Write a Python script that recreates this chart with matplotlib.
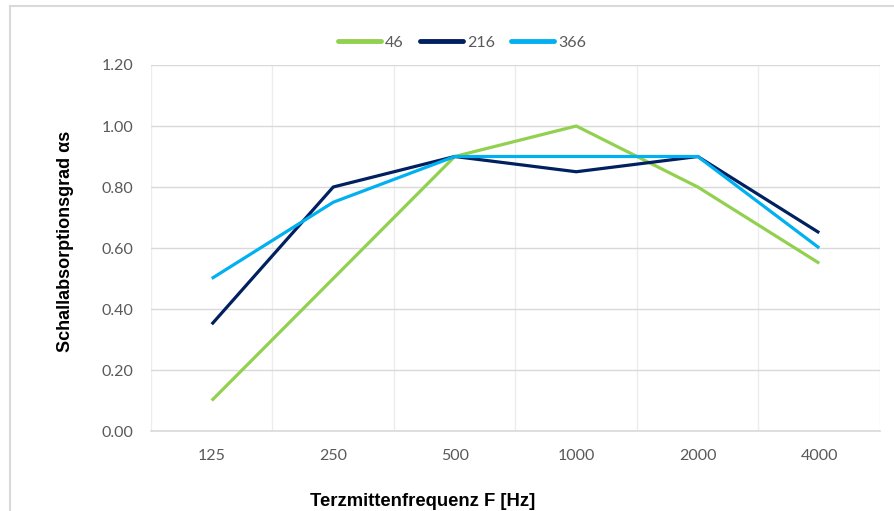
import numpy as np
import matplotlib
matplotlib.use("Agg")
from matplotlib import pyplot as plt  # noqa

freqs = ['125', '250', '500', '1000', '2000', '4000']
s46 = [0.10, 0.50, 0.90, 1.00, 0.80, 0.55]
s216 = [0.35, 0.80, 0.90, 0.85, 0.90, 0.65]
s366 = [0.50, 0.75, 0.90, 0.90, 0.90, 0.60]
series_names = ['46', '216', '366']
colors = ['#92D050', '#002060', '#00B0F0']

fig = plt.figure(figsize=(8.95, 5.11), dpi=100)
ax = fig.add_axes([151 / 895, 1 - 431 / 511, (880 - 151) / 895, (431 - 65) / 511])

x = np.arange(len(freqs))
for vals, name, c in zip([s46, s216, s366], series_names, colors):
    ax.plot(x, vals, color=c, lw=2.3, label=name, solid_capstyle='butt')

ax.set_xlim(-0.5, len(freqs) - 0.5)
ax.set_ylim(0, 1.2)
ax.set_yticks(np.arange(0, 1.21, 0.2))
ax.set_yticklabels(['%.2f' % v for v in np.arange(0, 1.21, 0.2)])
ax.set_xticks(x)
ax.set_xticklabels(freqs)
ax.set_xticks(np.arange(-0.5, len(freqs), 0.5), minor=True)
ax.tick_params(which='both', length=0)
ax.tick_params(axis='y', pad=13)
ax.tick_params(axis='x', pad=13)
for lab in ax.get_xticklabels() + ax.get_yticklabels():
    lab.set_fontfamily('Lato')
    lab.set_fontsize(11.5)
    lab.set_color('#595959')

ax.grid(True, which='minor', axis='x', color='#ececec', lw=1)
ax.grid(True, which='major', axis='y', color='#d9d9d9', lw=1)
ax.set_axisbelow(True)
for s in ['left', 'right', 'top']:
    ax.spines[s].set_visible(False)
ax.spines['bottom'].set_color('#d9d9d9')
ax.spines['bottom'].set_linewidth(1.2)

fig.text(66 / 895, 1 - 241 / 511, 'Schallabsorptionsgrad αs', rotation=90,
         ha='center', va='center', fontsize=13, fontweight='bold',
         family='Liberation Sans')
fig.text(423 / 895, 1 - 502 / 511, 'Terzmittenfrequenz F [Hz]',
         ha='center', va='center', fontsize=13.3, fontweight='bold',
         family='Liberation Sans')

leg = fig.legend(loc='center', bbox_to_anchor=(462 / 895, 1 - 43 / 511), ncol=3,
                 frameon=False, handlelength=2.7, handletextpad=0.25, columnspacing=1.0,
                 prop={'family': 'Lato', 'size': 11.5})
for t in leg.get_texts():
    t.set_color('#595959')
for h in leg.legend_handles:
    h.set_linewidth(3.5)
    h.set_solid_capstyle('round')

# outer chart frame (cropped at right and bottom)
fig.add_artist(plt.Line2D([10.5 / 895, 10.5 / 895], [0, 1 - 6 / 511], color='#d9d9d9', lw=1.5))
fig.add_artist(plt.Line2D([10.5 / 895, 1], [1 - 6 / 511, 1 - 6 / 511], color='#d9d9d9', lw=1.5))

fig.savefig('out.png', dpi=100)
